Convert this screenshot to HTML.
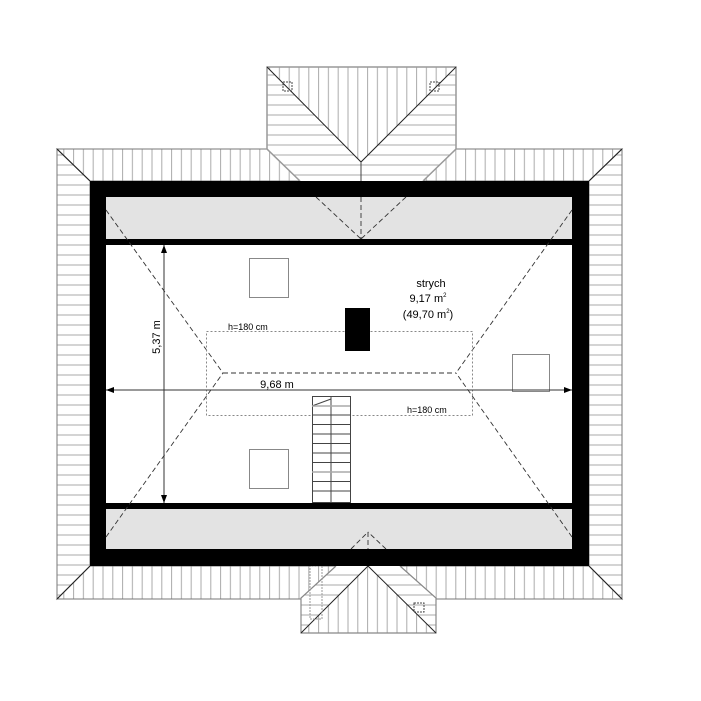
<!DOCTYPE html>
<html><head><meta charset="utf-8"><style>
html,body{margin:0;padding:0;background:#fff;}
svg{display:block;}
text{font-family:"Liberation Sans",sans-serif;fill:#000;}
</style></head><body>
<svg width="701" height="701" viewBox="0 0 701 701" xmlns="http://www.w3.org/2000/svg">
<defs>
<pattern id="hv" width="9.8" height="10" patternUnits="userSpaceOnUse"><line x1="5" y1="0" x2="5" y2="10" stroke="#aaa" stroke-width="1"/></pattern>
<pattern id="hh" width="10" height="10" patternUnits="userSpaceOnUse"><line x1="0" y1="5" x2="10" y2="5" stroke="#aaa" stroke-width="1"/></pattern>
</defs>
<polygon points="57,149 622,149 589,181 90,181" fill="url(#hv)" stroke="#777"/>
<polygon points="57,149 90,181 90,566 57,599" fill="url(#hh)" stroke="#777"/>
<polygon points="622,149 589,181 589,566 622,599" fill="url(#hh)" stroke="#777"/>
<polygon points="90,566 589,566 622,599 57,599" fill="url(#hv)" stroke="#777"/>
<line x1="57" y1="149" x2="90" y2="181" stroke="#222"/>
<line x1="622" y1="149" x2="589" y2="181" stroke="#222"/>
<line x1="57" y1="599" x2="90" y2="566" stroke="#222"/>
<line x1="622" y1="599" x2="589" y2="566" stroke="#222"/>
<polygon points="267,67 456,67 361,162" fill="#fff"/>
<polygon points="267,67 456,67 361,162" fill="url(#hv)"/>
<polygon points="267,67 361,162 361,181 300,181 267,149" fill="#fff"/>
<polygon points="267,67 361,162 361,181 300,181 267,149" fill="url(#hh)"/>
<polygon points="456,67 361,162 361,181 423,181 456,149" fill="#fff"/>
<polygon points="456,67 361,162 361,181 423,181 456,149" fill="url(#hh)"/>
<polyline points="300,181 267,149 267,67 456,67 456,149 423,181" fill="none" stroke="#999" stroke-width="1.5"/>
<line x1="267" y1="67" x2="361" y2="162" stroke="#222"/>
<line x1="456" y1="67" x2="361" y2="162" stroke="#222"/>
<line x1="361" y1="162" x2="361" y2="181" stroke="#444"/>
<rect x="283" y="82" width="9" height="9" fill="none" stroke="#444" stroke-dasharray="2,1"/>
<rect x="430" y="82" width="9" height="9" fill="none" stroke="#444" stroke-dasharray="2,1"/>
<polygon points="301,633 368,566 436,633" fill="#fff"/>
<polygon points="301,633 368,566 436,633" fill="url(#hv)"/>
<polygon points="301,598 336,566 368,566 301,633" fill="#fff"/>
<polygon points="301,598 336,566 368,566 301,633" fill="url(#hh)"/>
<polygon points="436,598 400,566 368,566 436,633" fill="#fff"/>
<polygon points="436,598 400,566 368,566 436,633" fill="url(#hh)"/>
<polyline points="336,566 301,598 301,633 436,633 436,598 400,566" fill="none" stroke="#888" stroke-width="1.2"/>
<line x1="301" y1="633" x2="368" y2="566" stroke="#222"/>
<line x1="436" y1="633" x2="368" y2="566" stroke="#222"/>
<rect x="310" y="566" width="12" height="53" fill="none" stroke="#999" stroke-dasharray="2,1"/>
<rect x="414" y="603" width="10" height="9" fill="none" stroke="#444" stroke-dasharray="2,1"/>
<rect x="90" y="181" width="499" height="385" fill="#000"/>
<rect x="106" y="197" width="466" height="352" fill="#fff"/>
<rect x="106" y="197" width="466" height="42" fill="#e3e3e3"/>
<rect x="106" y="239" width="466" height="6" fill="#000"/>
<rect x="106" y="503" width="466" height="6" fill="#000"/>
<rect x="106" y="509" width="466" height="40" fill="#e3e3e3"/>
<g stroke="#333" stroke-dasharray="5,3" fill="none" stroke-width="0.9">
<line x1="316" y1="197" x2="361" y2="239"/>
<line x1="406" y1="197" x2="361" y2="239"/>
<line x1="361" y1="197" x2="361" y2="239"/>
<line x1="351" y1="549" x2="368" y2="532"/>
<line x1="386" y1="549" x2="368" y2="532"/>
<line x1="368" y1="532" x2="368" y2="549"/>
<line x1="106" y1="210" x2="223" y2="373"/>
<line x1="106" y1="537" x2="223" y2="373"/>
<line x1="572" y1="210" x2="456" y2="373"/>
<line x1="572" y1="537" x2="456" y2="373"/>
<line x1="223" y1="373" x2="456" y2="373"/>
</g>
<rect x="206.5" y="331.5" width="266" height="84" fill="none" stroke="#888" stroke-dasharray="2,2"/>
<rect x="249.5" y="258.5" width="39" height="39" fill="#fff" stroke="#888"/>
<rect x="249.5" y="449.5" width="39" height="39" fill="#fff" stroke="#888"/>
<rect x="512.5" y="354.5" width="37" height="37" fill="#fff" stroke="#888"/>
<rect x="345" y="308" width="25" height="43" fill="#000"/>
<rect x="312.5" y="396.5" width="38" height="106" fill="#fff" stroke="#444"/>
<line x1="331" y1="396" x2="331" y2="503" stroke="#444"/>
<g stroke="#444">
<line x1="312" y1="406" x2="331" y2="399"/>
<line x1="312" y1="406" x2="350" y2="406" stroke="#aaa" stroke-width="1.5"/>
<line x1="312" y1="415" x2="350" y2="415"/>
<line x1="312" y1="424.5" x2="350" y2="424.5"/>
<line x1="312" y1="434" x2="350" y2="434"/>
<line x1="312" y1="443.5" x2="350" y2="443.5"/>
<line x1="312" y1="453" x2="350" y2="453"/>
<line x1="312" y1="462.5" x2="350" y2="462.5"/>
<line x1="312" y1="472" x2="350" y2="472" stroke="#aaa" stroke-width="1.5"/>
<line x1="312" y1="481.5" x2="350" y2="481.5"/>
<line x1="312" y1="491" x2="350" y2="491"/>
</g>
<line x1="164" y1="245" x2="164" y2="503" stroke="#333"/>
<polygon points="164,245 161,253 167,253" fill="#000"/>
<polygon points="164,503 161,495 167,495" fill="#000"/>
<line x1="106" y1="390" x2="572" y2="390" stroke="#333"/>
<polygon points="106,390 114,387 114,393" fill="#000"/>
<polygon points="572,390 564,387 564,393" fill="#000"/>
<text x="0" y="0" font-size="11" transform="translate(160,337) rotate(-90)" text-anchor="middle">5,37 m</text>
<text x="277" y="388" font-size="11" text-anchor="middle">9,68 m</text>
<text x="228" y="330" font-size="9">h=180 cm</text>
<text x="407" y="413" font-size="9">h=180 cm</text>
<text x="431" y="287" font-size="11" text-anchor="middle">strych</text>
<text x="428" y="302" font-size="11" text-anchor="middle">9,17 m<tspan font-size="6" dy="-5">2</tspan></text>
<text x="428" y="318" font-size="11" text-anchor="middle">(49,70 m<tspan font-size="6" dy="-5">2</tspan><tspan dy="5">)</tspan></text>
</svg>
</body></html>
